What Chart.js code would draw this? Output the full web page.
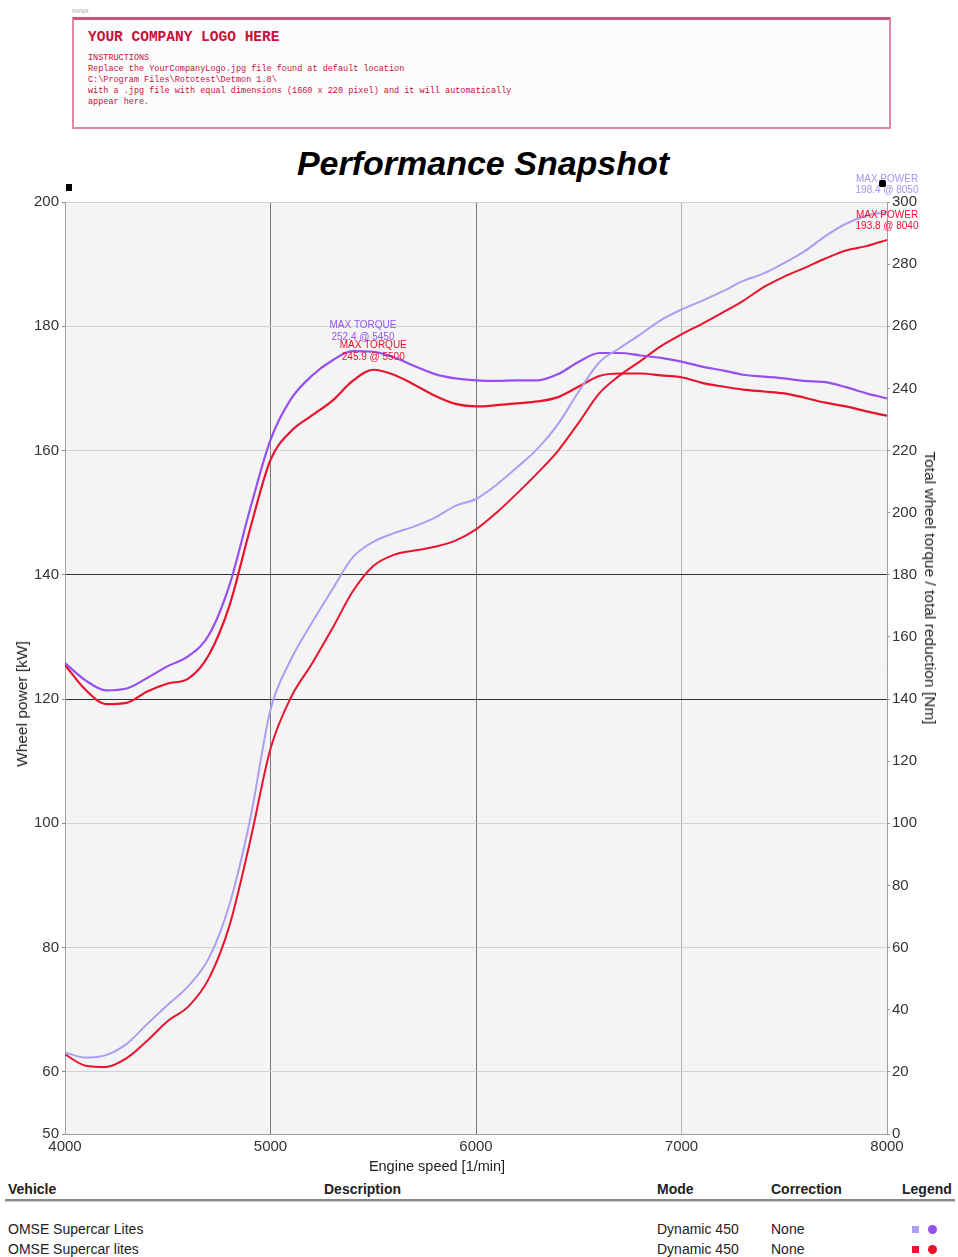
<!DOCTYPE html>
<html>
<head>
<meta charset="utf-8">
<script src="https://cdn.jsdelivr.net/npm/chart.js@4.4.1/dist/chart.umd.min.js"></script>
<style>
  body { margin: 0; width: 958px; height: 1257px; background: #fff; position: relative; overflow: hidden;
         font-family: "Liberation Sans", Arial, sans-serif; color: #222; }
  .abs { position: absolute; white-space: nowrap; }
  .mono { font-family: "Liberation Mono", "DejaVu Sans Mono", monospace; color: #c8103c; }
  #logo { left: 72px; top: 17px; width: 815px; height: 107px; border: 2px solid #e08aa0; border-top: 3px solid #c8587a; background: #fbfcfb; }
  .rot { transform-origin: center; }
  .th { font-weight: bold; font-size: 14px; top: 1181px; }
  .td { font-size: 14px; }
</style>
</head>
<body>
<div class="abs" style="left:72px;top:8px;font-size:5px;color:#aaa;">PAPER</div>
<div class="abs" id="logo"></div>
<div class="abs mono" style="left:88px;top:29px;font-size:14.5px;font-weight:bold;">YOUR COMPANY LOGO HERE</div>
<div class="abs mono" style="left:88px;top:53px;font-size:8.5px;line-height:11px;">INSTRUCTIONS<br>Replace the YourCompanyLogo.jpg file found at default location<br>C:\Program Files\Rototest\Detmon 1.8\<br>with a .jpg file with equal dimensions (1660 x 220 pixel) and it will automatically<br>appear here.</div>

<div class="abs" style="left:0;width:966px;top:144px;text-align:center;font-size:34px;font-weight:bold;font-style:italic;color:#000;">Performance Snapshot</div>

<div class="abs" style="left:0;top:170px;width:958px;height:1010px;">
  <canvas id="chart" width="958" height="1010"></canvas>
</div>

<div class="abs" style="left:66px;top:184px;width:6px;height:7px;background:#000;"></div>
<div class="abs" style="left:879px;top:180px;width:7px;height:7px;background:#000;border-radius:2px;"></div>

<div class="abs rot" style="left:22px;top:704px;font-size:15.5px;transform:translate(-50%,-50%) rotate(-90deg);">Wheel power [kW]</div>
<div class="abs rot" style="left:930px;top:588px;font-size:15.5px;transform:translate(-50%,-50%) rotate(90deg);">Total wheel torque / total reduction [Nm]</div>
<div class="abs" style="left:437px;top:1166px;font-size:14.5px;transform:translate(-50%,-50%);">Engine speed [1/min]</div>

<div class="abs th" style="left:8px;">Vehicle</div>
<div class="abs th" style="left:324px;">Description</div>
<div class="abs th" style="left:657px;">Mode</div>
<div class="abs th" style="left:771px;">Correction</div>
<div class="abs th" style="left:902px;">Legend</div>
<div class="abs" style="left:5px;top:1199px;width:950px;height:2px;background:#8a8a8a;border-bottom:1px solid #ccc;"></div>
<div id="rows"></div>

<script>
// engine speed samples [1/min]
const rpm = [4000, 4100, 4200, 4300, 4400, 4500, 4600, 4700, 4800, 4900,
             5000, 5100, 5200, 5300, 5400, 5500, 5600, 5700, 5800, 5900,
             6000, 6100, 6200, 6300, 6400, 6500, 6600, 6700, 6800, 6900,
             7000, 7100, 7200, 7300, 7400, 7500, 7600, 7700, 7800, 7900, 8000];

// wheel power [kW]
const powerLites = [63.1, 62.3, 62.7, 64.5, 67.7, 70.8, 73.8, 78.3, 86.9, 100.5,
                    118.3, 126.4, 132.2, 137.6, 142.8, 145.3, 146.7, 147.8, 149.2, 151.1,
                    152.2, 154.5, 157.3, 160.3, 164.3, 169.5, 174.2, 176.5, 178.7, 181.0,
                    182.7, 184.1, 185.6, 187.3, 188.5, 190.2, 192.1, 194.5, 196.5, 197.8, 198.4];
const powerLites2 = [62.8, 61.0, 60.8, 62.2, 65.0, 68.2, 70.5, 75.0, 83.5, 97.0,
                     112.0, 120.3, 125.6, 131.3, 137.3, 141.4, 143.2, 143.9, 144.5, 145.5,
                     147.3, 150.0, 153.1, 156.4, 160.0, 164.5, 169.2, 172.1, 174.4, 176.8,
                     178.7, 180.4, 182.2, 184.1, 186.3, 188.0, 189.4, 190.9, 192.2, 192.9, 193.9];

// total wheel torque / total reduction [Nm]
const torqueLites = [151.6, 146.0, 142.8, 143.4, 146.8, 150.6, 153.8, 160.6, 176.6, 201.0,
                     223.4, 236.6, 244.0, 249.0, 252.0, 251.8, 250.0, 247.2, 244.6, 243.2,
                     242.6, 242.4, 242.6, 242.6, 244.6, 248.6, 251.4, 251.4, 250.6, 249.8,
                     248.6, 247.0, 245.8, 244.4, 243.8, 243.2, 242.4, 242.0, 240.4, 238.4, 236.8];
const torqueLites2 = [151.0, 143.0, 138.4, 138.8, 142.4, 145.0, 146.6, 154.2, 170.0, 194.6,
                      217.0, 226.2, 231.2, 236.0, 242.4, 246.0, 244.4, 241.2, 237.6, 235.0,
                      234.2, 234.6, 235.2, 235.8, 237.2, 240.6, 244.0, 244.8, 244.8, 244.2,
                      243.6, 241.8, 240.6, 239.6, 239.0, 238.4, 237.0, 235.4, 234.2, 232.6, 231.2];

const xTicks = [4000, 5000, 6000, 7000, 8000];
const powerTicks = [50, 60, 80, 100, 120, 140, 160, 180, 200];
const torqueTicks = [0, 20, 40, 60, 80, 100, 120, 140, 160, 180, 200, 220, 240, 260, 280, 300];

const vehicles = ["OMSE Supercar Lites", "OMSE Supercar lites"];
const modes = ["Dynamic 450", "Dynamic 450"];
const corrections = ["None", "None"];

const colPowerA = "#aa9ff2", colTorqueA = "#9650f0", colRed = "#e8132d";

// peak labels: [lines, rpm, value, axis, color, offsets]
const peaks = [
  [["MAX TORQUE", "252.4 @ 5450"], 5450, 252.4, "y1", "#9456ee", [-25, -13]],
  [["MAX TORQUE", "245.9 @ 5500"], 5500, 245.9, "y1", colRed, [-25, -13]],
  [["MAX POWER", "198.4 @ 8050"], 8000, 198.4, "y", "#a594f0", [-33, -22]],
  [["MAX POWER", "193.8 @ 8040"], 8000, 193.8, "y", colRed, [-25, -14]],
];

function pts(arr) {
  return rpm.map((r, i) => ({ x: r, y: arr[i] }));
}

const plotBg = {
  id: "plotBg",
  beforeDraw(chart) {
    const a = chart.chartArea, ctx = chart.ctx;
    ctx.save();
    ctx.fillStyle = "#f4f4f4";
    ctx.fillRect(a.left, a.top, a.right - a.left, a.bottom - a.top);
    ctx.strokeStyle = "#cfcfcf";
    ctx.lineWidth = 1;
    ctx.beginPath();
    ctx.moveTo(a.left, a.top + 0.5);
    ctx.lineTo(a.right, a.top + 0.5);
    ctx.stroke();
    ctx.restore();
  },
};

const peakText = {
  id: "peakText",
  afterDatasetsDraw(chart) {
    const ctx = chart.ctx, xs = chart.scales.x;
    ctx.save();
    ctx.font = "10px 'Liberation Sans', Arial";
    ctx.textAlign = "center";
    ctx.textBaseline = "middle";
    peaks.forEach(([lines, r, v, axis, color, offs]) => {
      const px = xs.getPixelForValue(r);
      const py = chart.scales[axis].getPixelForValue(v);
      ctx.fillStyle = color;
      lines.forEach((t, i) => ctx.fillText(t, px, py + offs[i]));
    });
    ctx.restore();
  },
};

const tickFont = { family: "'Liberation Sans', Arial", size: 15 };

new Chart(document.getElementById("chart"), {
  type: "line",
  data: {
    datasets: [
      { data: pts(powerLites), yAxisID: "y", borderColor: colPowerA, borderWidth: 2 },
      { data: pts(torqueLites), yAxisID: "y1", borderColor: colTorqueA, borderWidth: 2.2 },
      { data: pts(powerLites2), yAxisID: "y", borderColor: colRed, borderWidth: 2 },
      { data: pts(torqueLites2), yAxisID: "y1", borderColor: colRed, borderWidth: 2.2 },
    ],
  },
  options: {
    responsive: false,
    animation: false,
    layout: { padding: { top: 32, left: 0, right: 0, bottom: 0 } },
    elements: { point: { radius: 0 }, line: { cubicInterpolationMode: "monotone", fill: false } },
    plugins: { legend: { display: false }, tooltip: { enabled: false } },
    scales: {
      x: {
        type: "linear", min: 4000, max: 8000,
        afterBuildTicks: (s) => { s.ticks = xTicks.map((v) => ({ value: v })); },
        afterFit: (s) => { s.height = 46; },
        ticks: { font: tickFont, color: "#333", padding: 4, maxRotation: 0, callback: (v) => String(v) },
        grid: {
          drawTicks: false,
          color: (c) => (c.tick && c.tick.value === 7000 ? "#b5b5b5" : "#7a7a7a"),
        },
        border: { color: "#a0a0a0" },
      },
      y: {
        position: "left", min: 50, max: 200,
        afterBuildTicks: (s) => { s.ticks = powerTicks.map((v) => ({ value: v })); },
        afterFit: (s) => { s.width = 65; },
        ticks: { font: tickFont, color: "#333", padding: 3 },
        grid: {
          tickLength: 3,
          tickColor: "#888",
          color: (c) => (c.tick && (c.tick.value === 120 || c.tick.value === 140) ? "#333" : "#d2d2d2"),
        },
        border: { color: "#a0a0a0" },
      },
      y1: {
        position: "right", min: 0, max: 300,
        afterBuildTicks: (s) => { s.ticks = torqueTicks.map((v) => ({ value: v })); },
        afterFit: (s) => { s.width = 71; },
        ticks: { font: tickFont, color: "#333", padding: 2 },
        grid: { drawOnChartArea: false, tickLength: 3, color: "#999" },
        border: { color: "#a0a0a0" },
      },
    },
  },
  plugins: [plotBg, peakText],
});

// vehicle table rows
const rows = document.getElementById("rows");
const swatch = [[colPowerA, colTorqueA], [colRed, colRed]];
vehicles.forEach((v, i) => {
  const top = 1221 + i * 20;
  rows.insertAdjacentHTML("beforeend",
    `<div class="abs td" style="left:8px;top:${top}px;">${v}</div>` +
    `<div class="abs td" style="left:657px;top:${top}px;">${modes[i]}</div>` +
    `<div class="abs td" style="left:771px;top:${top}px;">${corrections[i]}</div>` +
    `<div class="abs" style="left:912px;top:${top + 5}px;width:7px;height:7px;background:${swatch[i][0]};"></div>` +
    `<div class="abs" style="left:928px;top:${top + 4}px;width:9px;height:9px;border-radius:50%;background:${swatch[i][1]};"></div>`);
});
</script>
</body>
</html>
